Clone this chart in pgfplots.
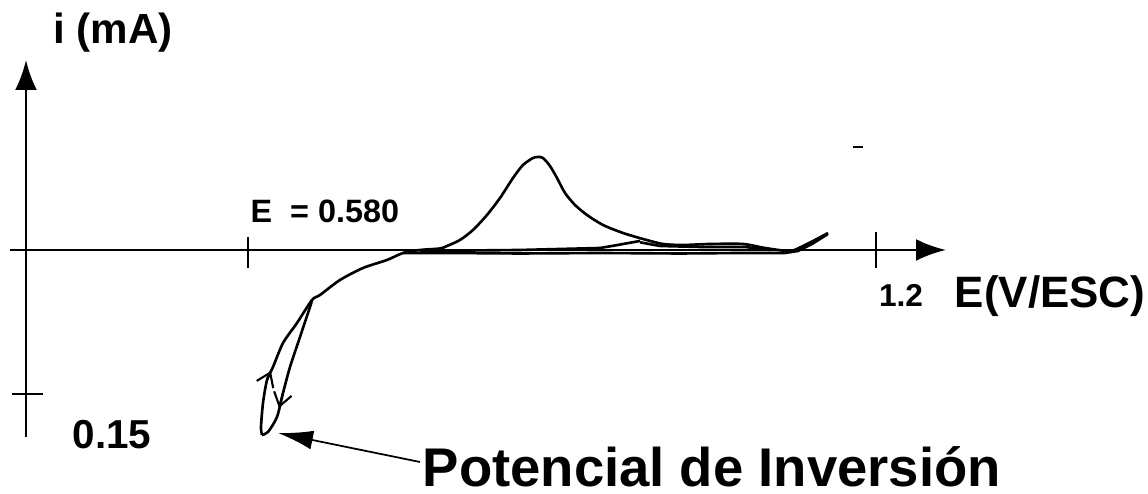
\documentclass[border=0pt]{standalone}
\usepackage{pgfplots}
\pgfplotsset{compat=1.18}
\usepackage{fontspec}
\setmainfont{Liberation Sans}
\usetikzlibrary{arrows.meta}

\begin{document}
\begin{tikzpicture}
\begin{axis}[
    scale only axis,
    width=11.48cm, height=4.94cm,
    xmin=0.33515, xmax=1.46857,
    ymin=-0.25417, ymax=0.26042,
    axis lines=none,
    ticks=none,
    clip=false,
    cycle list={{black,no markers}},
    every axis plot/.append style={black, no markers, line width=0.75pt},
]
\path (rel axis cs:0,0) rectangle (rel axis cs:1,1);

% axes
\draw[line width=0.8pt, -{Latex[length=3mm,width=2.2mm]}] (axis cs:0.34502,0) -- (axis cs:1.26914,0);
\draw[line width=0.8pt, -{Latex[length=3mm,width=2.2mm]}] (axis cs:0.36082,-0.19479) -- (axis cs:0.36082,0.19792);
\draw[line width=0.8pt] (axis cs:0.58,0.01354) -- (axis cs:0.58,-0.01875);
\draw[line width=0.8pt] (axis cs:1.2,0.01875) -- (axis cs:1.2,-0.01875);
\draw[line width=0.8pt] (axis cs:0.34700,-0.15) -- (axis cs:0.37760,-0.15);
\draw[line width=0.6pt] (axis cs:1.17732,0.10729) -- (axis cs:1.18719,0.10729);

% outer loop branch (up), cathodic branch, anodic scan with the peak
\addplot[smooth, tension=0.45] coordinates {
(0.59382,-0.19271)(0.59283,-0.18438)(0.59481,-0.15938)(0.59876,-0.13542)
(0.60468,-0.12188)(0.61456,-0.09688)(0.62838,-0.07604)(0.64319,-0.05208)
(0.65109,-0.04688)(0.67083,-0.03125)(0.69354,-0.01875)
(0.71723,-0.01042)(0.73303,-0.00313)(0.74982,0.00000)(0.76956,0.00156)
(0.77647,0.00417)(0.78931,0.01042)(0.80214,0.02083)(0.81596,0.03646)
(0.82880,0.05417)(0.84163,0.07500)(0.85151,0.08854)(0.86138,0.09583)
(0.86632,0.09688)(0.87125,0.09583)(0.87816,0.08750)(0.88508,0.07500)
(0.89298,0.05938)(0.90284,0.04688)(0.91469,0.03646)(0.93049,0.02604)
(0.95024,0.01771)(0.96998,0.01146)(0.98973,0.00625)(1.00948,0.00521)
(1.03613,0.00625)(1.06871,0.00625)(1.09043,0.00208)(1.11512,-0.00104)
(1.12795,0.00417)(1.13980,0.01042)(1.15263,0.01771)
};
% return scan just below zero
\addplot coordinates {
(1.15263,0.01667)(1.13684,0.00625)(1.12302,-0.00104)(1.11018,-0.00313)
(1.06575,-0.00313)(1.00651,-0.00365)(0.92753,-0.00313)(0.84855,-0.00365)
(0.77943,-0.00313)(0.73303,-0.00313)
};
% second trace near the baseline
\addplot coordinates {
(0.74982,-0.00104)(0.84855,0.00000)(0.92753,0.00208)(0.93938,0.00417)(0.96702,0.00938)
};
\addplot coordinates {
(0.96702,0.00800)(0.98677,0.00417)(1.02626,0.00313)(1.07068,0.00313)(1.09537,0.00000)
};
% inner loop branch (down) to the inversion potential
\addplot[smooth, tension=0.45] coordinates {
(0.64319,-0.05208)(0.64121,-0.05938)(0.63134,-0.09063)(0.62147,-0.12188)
(0.61456,-0.14896)(0.60863,-0.17396)(0.59975,-0.18958)(0.59382,-0.19271)
};
% direction arrows on the loop
\addplot[line width=0.6pt, -{Straight Barb[length=1.3mm,width=1.8mm]}] coordinates {(0.59876,-0.13542)(0.60271,-0.12604)};
\addplot[line width=0.6pt, -{Straight Barb[length=1.3mm,width=1.8mm]}] coordinates {(0.61456,-0.14896)(0.61061,-0.16458)};

% labels
\node[anchor=base, inner sep=0, font=\bfseries\fontsize{12}{14}\selectfont] at (axis cs:0.44671,0.21459) {i (mA)};
\node[anchor=base west, inner sep=0, font=\bfseries\fontsize{9.2}{11}\selectfont] at (axis cs:0.58197,0.02813) {E\ \ = 0.580};
\node[anchor=base, inner sep=0, font=\bfseries\fontsize{9}{11}\selectfont] at (axis cs:1.22470,-0.05938) {1.2};
\node[anchor=base east, inner sep=0, font=\bfseries\fontsize{12.5}{15}\selectfont] at (axis cs:1.46660,-0.06042) {E(V/ESC)};
\node[anchor=base west, inner sep=0, font=\bfseries\fontsize{11.5}{14}\selectfont] at (axis cs:0.40624,-0.20729) {0.15};
\node[anchor=base west, inner sep=0, font=\bfseries\fontsize{15.5}{18}\selectfont] at (axis cs:0.75179,-0.24688) {Potencial de Inversión};
\draw[line width=0.5pt, -{Latex[length=3.5mm,width=1.9mm]}] (axis cs:0.74982,-0.22083) -- (axis cs:0.60962,-0.19063);
\end{axis}
\end{tikzpicture}
\end{document}
